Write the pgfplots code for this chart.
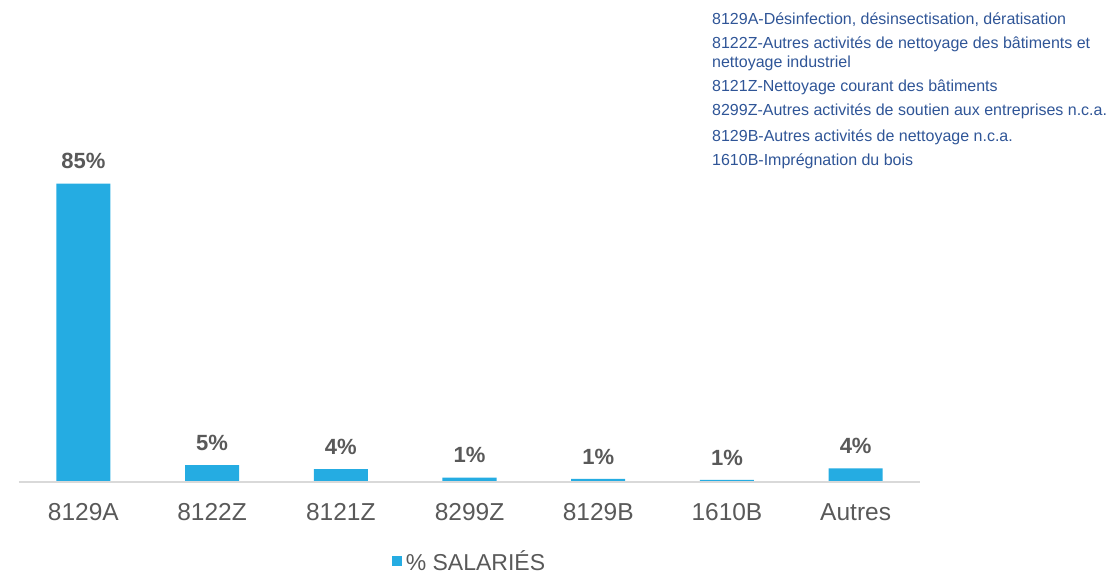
\documentclass[border=0pt]{standalone}
\usepackage{pgfplots}
\pgfplotsset{compat=1.18}
\usepackage{pgfplotstable}
\usepackage{fontspec}
\setmainfont{Liberation Sans}
\definecolor{barblue}{RGB}{37,172,226}
\definecolor{txtgray}{RGB}{89,89,89}
\definecolor{legblue}{RGB}{47,85,151}
\definecolor{axgray}{RGB}{217,217,217}
\pgfplotstableread{
x y lab
0 85.0 85\%
1 4.8 5\%
2 3.7 4\%
3 1.25 1\%
4 0.9 1\%
5 0.6 1\%
6 3.9 4\%
}\datatab
\begin{document}
\begin{tikzpicture}[x=1pt,y=1pt]
\useasboundingbox (0,0) rectangle (1109,574);
\begin{axis}[
  at={(19pt,92pt)}, anchor=south west,
  scale only axis, width=901pt, height=351pt,
  xmin=-0.5, xmax=6.5, ymin=0, ymax=100,
  axis line style={draw=none},
  axis x line*=bottom, axis y line=none,
  ytick=\empty,
  xtick={0,...,6},
  xticklabels={8129A,8122Z,8121Z,8299Z,8129B,1610B,Autres},
  major tick length=0pt,
  xticklabel style={font=\fontsize{24.5}{28}\selectfont, text=txtgray, yshift=-18pt},
  ybar, bar width=0.42,
  nodes near coords,
  point meta=explicit symbolic,
  nodes near coords style={font=\fontsize{22}{26}\selectfont\bfseries, text=txtgray, yshift=11pt},
  legend style={at={(0.5,-0.226)}, anchor=center, draw=none, fill=none,
    font=\fontsize{23}{27}\selectfont, text=txtgray},
  legend image code/.code={\fill[barblue] (0pt,-5pt) rectangle (10pt,5pt);},
  clip=false,
]
\addplot[fill=barblue, draw=none] table[x=x, y=y, meta=lab] {\datatab};
\addlegendentry{\hspace{2pt}\% SALARIÉS}
\draw[axgray, line width=1.5pt] (axis cs:-0.5,0) -- (axis cs:6.5,0);
\end{axis}
\begin{scope}[every node/.style={anchor=west, inner sep=0pt, font=\fontsize{16}{19}\selectfont, text=legblue}]
\node at (712,554) {8129A-Désinfection, désinsectisation, dératisation};
\node at (712,530) {8122Z-Autres activités de nettoyage des bâtiments et};
\node at (712,511) {nettoyage industriel};
\node at (712,487) {8121Z-Nettoyage courant des bâtiments};
\node at (712,463) {8299Z-Autres activités de soutien aux entreprises n.c.a.};
\node at (712,437) {8129B-Autres activités de nettoyage n.c.a.};
\node at (712,413) {1610B-Imprégnation du bois};
\end{scope}
\end{tikzpicture}
\end{document}
